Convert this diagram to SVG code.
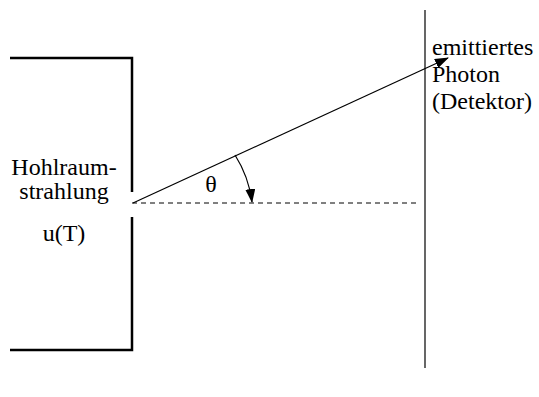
<svg xmlns="http://www.w3.org/2000/svg" width="539" height="397" viewBox="0 0 539 397">
<defs>
<marker id="ah2" markerWidth="14" markerHeight="10" refX="13" refY="5" orient="auto" markerUnits="userSpaceOnUse" viewBox="0 0 14 10">
<path d="M0,0 L14,5 L0,10 Z" fill="#000"/>
</marker>
</defs>
<g id="cavity">
<path d="M10,58 H132 V192" stroke="#000" stroke-width="2.5" fill="none"/>
<path d="M132,217 V350 H10" stroke="#000" stroke-width="2.5" fill="none"/>
<text x="64" y="175" text-anchor="middle" font-family="Liberation Serif, serif" font-size="24">Hohlraum-</text>
<text x="64" y="199" text-anchor="middle" font-family="Liberation Serif, serif" font-size="24">strahlung</text>
<text x="64" y="241" text-anchor="middle" font-family="Liberation Serif, serif" font-size="24">u(T)</text>
</g>
<g id="detector">
<line x1="425" y1="10" x2="425" y2="368" stroke="#000" stroke-width="1.2"/>
<text x="432" y="55" font-family="Liberation Serif, serif" font-size="24">emittiertes</text>
<text x="432" y="82" font-family="Liberation Serif, serif" font-size="24">Photon</text>
<text x="432" y="109" font-family="Liberation Serif, serif" font-size="24">(Detektor)</text>
</g>
<g id="connectors">
<line x1="132" y1="203" x2="420" y2="203" stroke="#000" stroke-width="1" stroke-dasharray="5,4"/>
<line x1="133" y1="203" x2="448" y2="58" stroke="#000" stroke-width="1.2" marker-end="url(#ah2)"/>
<path d="M235,155 A115,115 0 0 1 252,202" stroke="#000" stroke-width="1.2" fill="none" marker-end="url(#ah2)"/>
<text x="211" y="192" text-anchor="middle" font-family="Liberation Serif, serif" font-size="24">θ</text>
</g>
</svg>
